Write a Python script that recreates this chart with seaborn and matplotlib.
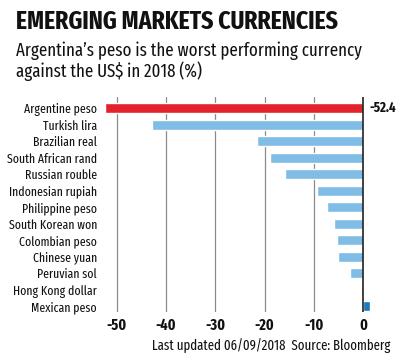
import matplotlib
matplotlib.use("Agg")
import matplotlib.pyplot as plt
import seaborn as sns
import pandas as pd

# data
currencies = ["Argentine peso", "Turkish lira", "Brazilian real", "South African rand",
              "Russian rouble", "Indonesian rupiah", "Philippine peso", "South Korean won",
              "Colombian peso", "Chinese yuan", "Peruvian sol", "Hong Kong dollar", "Mexican peso"]
change = [-52.4, -42.8, -21.6, -18.9, -15.9, -9.4, -7.4, -5.9, -5.3, -5.0, -2.6, -0.5, 1.4]
bar_colors = ["#e3222b"] + ["#7fbde6"] * 11 + ["#1d78bd"]
xticks = [-50, -40, -30, -20, -10, 0]

df = pd.DataFrame({"currency": currencies, "change": change})

sns.set_style("white")
plt.rcParams["font.family"] = ["Fira Sans Extra Condensed", "Roboto Condensed", "DejaVu Sans"]
plt.rcParams["text.color"] = "#111111"

fig = plt.figure(figsize=(4, 3.62), dpi=100)
ax = fig.add_axes([0.26, 0.138, 0.6675, 0.594])

sns.barplot(data=df, x="change", y="currency", hue="currency", palette=bar_colors,
            legend=False, width=0.6, ax=ax, orient="h", saturation=1)

ax.set_xlim(-52.64, 1.63)
ax.set_ylim(12.36, -0.67)
for t in xticks[:-1]:
    ax.axvline(t, color="#8a8a8a", lw=0.9, zorder=0)
ax.axvline(0, color="#222222", lw=1.2, zorder=3)

for s in ax.spines.values():
    s.set_visible(False)
ax.set_xticks(xticks)
ax.set_xticklabels([str(t) for t in xticks], fontsize=11, fontweight="bold", color="#111111")
ax.tick_params(axis="x", length=0, pad=4)
ax.tick_params(axis="y", length=0, pad=5)
for lab in ax.get_yticklabels():
    lab.set_fontsize(9.2)
    lab.set_color("#111111")
ax.set_xlabel("")
ax.set_ylabel("")

# value label for the worst performer
ax.annotate("-52.4", xy=(0, 0), xytext=(5, 0), textcoords="offset points",
            fontsize=10, fontweight="bold", va="center", ha="left")

fig.text(0.04, 0.975, "EMERGING MARKETS CURRENCIES", fontsize=18.5, fontweight="bold",
         va="top", ha="left")
fig.text(0.04, 0.885, "Argentina\u2019s peso is the worst performing currency\nagainst the US$ in 2018 (%)",
         fontsize=13.2, va="top", ha="left", linespacing=1.05)
fig.text(0.975, 0.045, "Last updated 06/09/2018  Source: Bloomberg", fontsize=10,
         va="center", ha="right")

fig.savefig("out.png", dpi=100)
